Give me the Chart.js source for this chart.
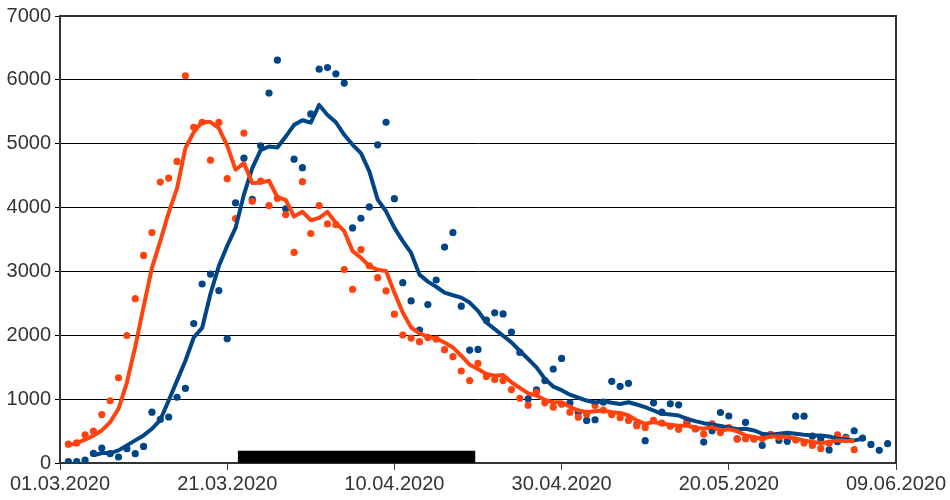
<!DOCTYPE html>
<html>
<head>
<meta charset="utf-8">
<script src="https://cdn.jsdelivr.net/npm/chart.js@4.4.1/dist/chart.umd.min.js"></script>
<style>
    html, body { margin: 0; padding: 0; background: #fff; }
    #wrap { width: 950px; height: 500px; }
</style>
</head>
<body>
<div id="wrap"><canvas id="cases"></canvas></div>
<script>
// ==========================================
// DATA (day 0 = 01.03.2020)
// ==========================================
const xTickLabels = ['01.03.2020', '21.03.2020', '10.04.2020', '30.04.2020', '20.05.2020', '09.06.2020'];
const yTicks = [0, 1000, 2000, 3000, 4000, 5000, 6000, 7000];

// daily values, blue series, starts on 02.03.2020
const blueStart = 1;
const blueDaily = [
    20, 20, 45, 150, 235, 146, 94, 224, 146, 260,
    796, 682, 720, 1030, 1168, 2184, 2803, 2959, 2700, 1945,
    4072, 4774, 4130, 4967, 5794, 6309, 3980, 4758, 4624, 5466,
    6168, 6193, 6095, 5950, 3682, 3833, 4010, 4983, 5336, 4140,
    2824, 2538, 2081, 2481, 2866, 3381, 3610, 2456, 1769, 1779,
    2237, 2351, 2335, 2050, 1732, 1005, 1145, 1290, 1472, 1638,
    942, 796, 666, 677, 952, 1279, 1201, 1248, 600, 349,
    942, 796, 926, 911, 640, 536, 328, 505, 791, 736,
    380, 635, 380, 276, 440, 354, 340, 733, 733, 420,
    380, 205, 333, 400, 505, 390, 291, 198, 302
];

// daily values, orange series, starts on 02.03.2020
const orangeStart = 1;
const orangeDaily = [
    295, 315, 440, 500, 758, 975, 1335, 1997, 2574, 3251,
    3610, 4400, 4462, 4722, 6064, 5258, 5336, 4743, 5334, 4452,
    3828, 5167, 4098, 4415, 4031, 4145, 3890, 3298, 4405, 3594,
    4031, 3744, 3734, 3030, 2721, 3342, 3089, 2902, 2694, 2330,
    2003, 1956, 1900, 1966, 1940, 1774, 1665, 1441, 1290, 1560,
    1353, 1306, 1290, 1150, 1014, 905, 1108, 942, 874, 920,
    796, 718, 765, 900, 828, 758, 710, 666, 583, 557,
    666, 624, 575, 528, 670, 536, 453, 614, 476, 555,
    375, 380, 375, 385, 450, 406, 442, 359, 315, 276,
    229, 312, 442, 385, 209
];

// smoothed curves
const blueAvgStart = 4;
const blueAvg = [
    120, 156, 156, 198, 276, 354, 432, 536, 677, 978,
    1290, 1602, 1966, 2115, 2650, 3084, 3400, 3682, 4203, 4618,
    4900, 4956, 4940, 5112, 5295, 5367, 5331, 5607, 5451, 5336,
    5139, 4983, 4852, 4566, 4125, 3942, 3682, 3474, 3290, 2950,
    2840, 2760, 2668, 2627, 2590, 2512, 2382, 2200, 2097, 1992,
    1888, 1758, 1629, 1498, 1317, 1197, 1140, 1070, 1022, 978,
    947, 972, 944, 923, 952, 916, 874, 822, 770, 760,
    744, 692, 655, 624, 604, 580, 557, 530, 536, 510,
    458, 442, 458, 474, 458, 442, 432, 432, 416, 380,
    370, 354, 380
];

const orangeAvgStart = 1;
const orangeAvg = [
    276, 312, 365, 432, 510, 640, 849, 1260, 1820, 2450,
    3058, 3474, 3920, 4300, 4930, 5180, 5340, 5340, 5245, 4970,
    4593, 4696, 4384, 4390, 4420, 4165, 4120, 3860, 3935, 3802,
    3838, 3932, 3760, 3630, 3318, 3214, 3084, 3025, 3006, 2668,
    2356, 2122, 2030, 1977, 1950, 1888, 1810, 1680, 1540, 1472,
    1394, 1368, 1379, 1264, 1176, 1092, 1056, 989, 952, 952,
    880, 822, 800, 810, 822, 795, 783, 744, 666, 614,
    640, 614, 598, 583, 588, 552, 536, 562, 510, 530,
    497, 432, 406, 380, 416, 416, 406, 380, 354, 328,
    312, 328, 354, 344, 344
];

// black period marker along the x axis
const periodSpan = [21.25, 49.7];
const periodHeight = 190;

const palette = {
    blue: '#004586',
    orange: '#ff420e',
    frame: '#333333'
};

function toPoints(values, start) {
    return values.map((v, i) => ({ x: start + i, y: v }));
}

// ==========================================
// CHART
// ==========================================
Chart.defaults.font.family = '"Liberation Sans", Arial, sans-serif';
Chart.defaults.font.size = 20;
Chart.defaults.color = '#333333';

// draws the top and right edges of the plot frame
const frameBox = {
    id: 'frameBox',
    afterDraw(chart) {
        const { ctx, chartArea: a } = chart;
        ctx.save();
        ctx.strokeStyle = palette.frame;
        ctx.lineWidth = 2;
        ctx.beginPath();
        ctx.moveTo(a.left, a.top);
        ctx.lineTo(a.right, a.top);
        ctx.lineTo(a.right, a.bottom);
        ctx.stroke();
        ctx.restore();
    }
};

new Chart(document.getElementById('cases'), {
    type: 'line',
    data: {
        datasets: [
            {
                label: 'orange avg',
                data: toPoints(orangeAvg, orangeAvgStart),
                borderColor: palette.orange,
                borderWidth: 4,
                borderJoinStyle: 'round',
                pointRadius: 0,
                fill: false,
                order: 1
            },
            {
                label: 'blue avg',
                data: toPoints(blueAvg, blueAvgStart),
                borderColor: palette.blue,
                borderWidth: 4,
                borderJoinStyle: 'round',
                pointRadius: 0,
                fill: false,
                order: 2
            },
            {
                label: 'orange daily',
                data: toPoints(orangeDaily, orangeStart),
                showLine: false,
                pointRadius: 3.6,
                pointBorderWidth: 0,
                pointBackgroundColor: palette.orange,
                order: 3
            },
            {
                label: 'blue daily',
                data: toPoints(blueDaily, blueStart),
                showLine: false,
                pointRadius: 3.6,
                pointBorderWidth: 0,
                pointBackgroundColor: palette.blue,
                order: 4
            },
            {
                label: 'period',
                data: periodSpan.map(x => ({ x: x, y: periodHeight })),
                borderWidth: 0,
                pointRadius: 0,
                backgroundColor: '#000000',
                fill: 'origin',
                order: 5
            }
        ]
    },
    options: {
        responsive: true,
        maintainAspectRatio: false,
        animation: false,
        events: [],
        layout: { padding: { top: 14, right: 54, left: 0, bottom: 0 } },
        plugins: {
            legend: { display: false },
            tooltip: { enabled: false }
        },
        scales: {
            x: {
                type: 'linear',
                min: 0,
                max: 100,
                afterFit: s => { s.height = 37; },
                afterBuildTicks: s => { s.ticks = xTickLabels.map((_, i) => ({ value: i * 20 })); },
                ticks: {
                    autoSkip: false,
                    maxRotation: 0,
                    padding: 2,
                    callback: (v) => xTickLabels[Math.round(v / 20)]
                },
                grid: {
                    drawOnChartArea: false,
                    drawTicks: true,
                    tickLength: 7,
                    color: palette.frame
                },
                border: { color: palette.frame, width: 2 }
            },
            y: {
                min: 0,
                max: 7000,
                afterFit: s => { s.width = 60; },
                afterBuildTicks: s => { s.ticks = yTicks.map(v => ({ value: v })); },
                ticks: {
                    padding: 4,
                    callback: (v) => String(v)
                },
                grid: {
                    color: '#000000',
                    lineWidth: 1,
                    tickLength: 5
                },
                border: { color: palette.frame, width: 2 }
            }
        }
    },
    plugins: [frameBox]
});
</script>
</body>
</html>
